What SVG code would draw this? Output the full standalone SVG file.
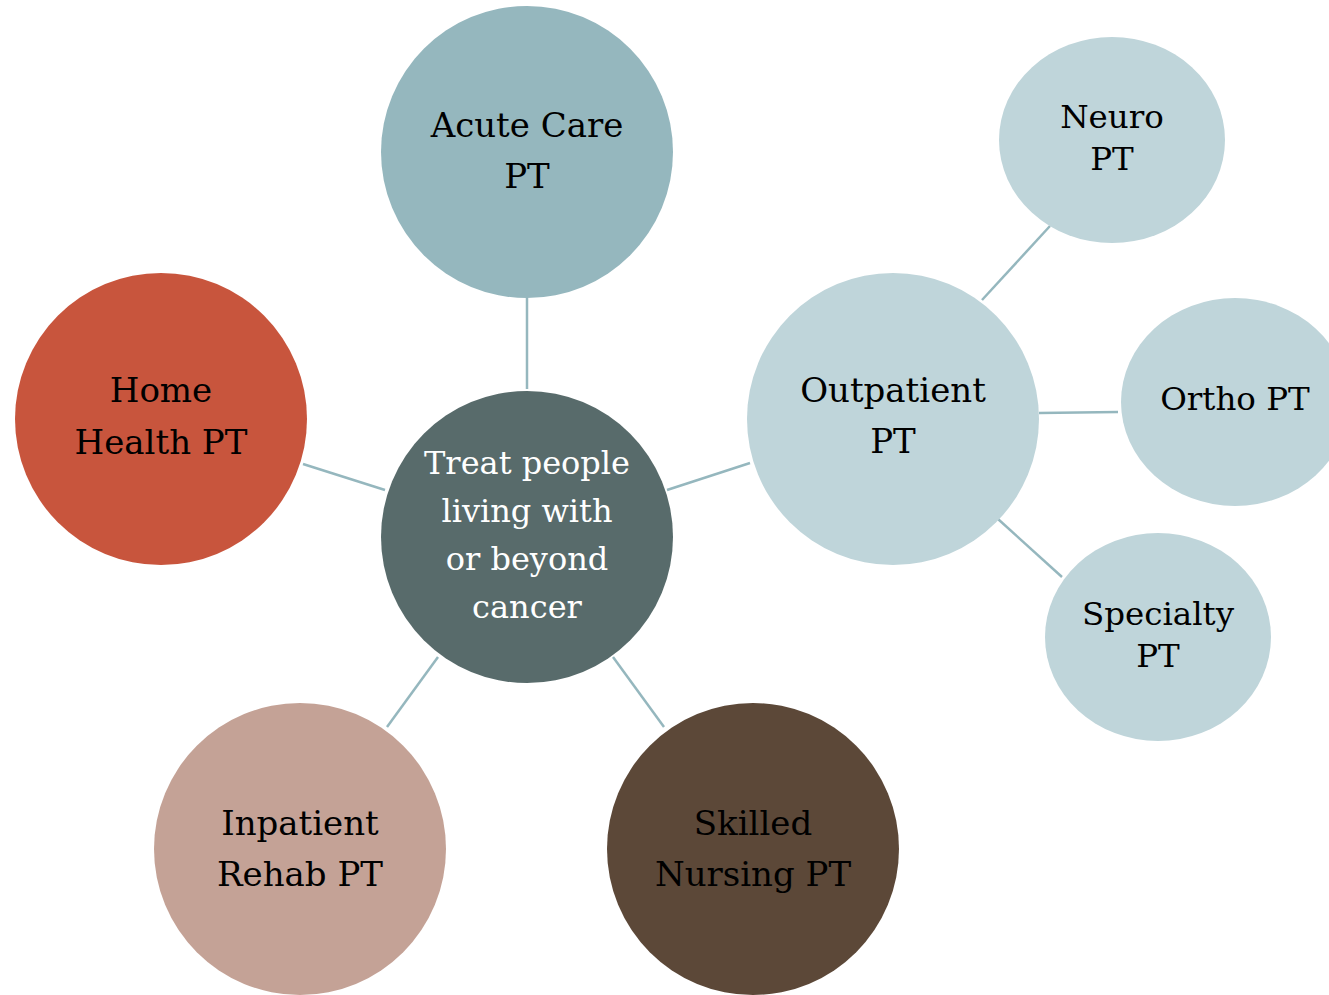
<svg xmlns="http://www.w3.org/2000/svg" width="1329" height="995" viewBox="0 0 1329 995">
<style>
text{font-family:"DejaVu Serif","Liberation Serif",serif;text-anchor:middle;fill:#000}
.big{font-size:34px}
.mid{font-size:32px}
.sm{font-size:32.5px}
.w{fill:#fff}
.c line{stroke:#95B7BE;stroke-width:2.5}
</style>
<rect width="1329" height="995" fill="#fff"/>
<g class="c" id="connectors">
<line x1="527" y1="298" x2="527" y2="389"/>
<line x1="303" y1="464" x2="385" y2="490"/>
<line x1="667" y1="490" x2="750" y2="463"/>
<line x1="438" y1="657" x2="387" y2="727"/>
<line x1="613" y1="657" x2="664" y2="727"/>
<line x1="982" y1="300" x2="1050" y2="226"/>
<line x1="1039" y1="413" x2="1118" y2="412"/>
<line x1="998" y1="519" x2="1062" y2="577"/>
</g>
<g id="acute"><circle cx="527" cy="152" r="146" fill="#95B7BE"/><text class="big" x="527" y="137">Acute Care</text><text class="big" x="527" y="188">PT</text></g>
<g id="home"><circle cx="161" cy="419" r="146" fill="#C8553D"/><text class="big" x="161" y="402">Home</text><text class="big" x="161" y="454">Health PT</text></g>
<g id="center"><circle cx="527" cy="537" r="146" fill="#586B6B"/><text class="mid w" x="527" y="474">Treat people</text><text class="mid w" x="527" y="522">living with</text><text class="mid w" x="527" y="570">or beyond</text><text class="mid w" x="527" y="618">cancer</text></g>
<g id="outpatient"><circle cx="893" cy="419" r="146" fill="#BFD5DA"/><text class="big" x="893" y="402" font-size="35">Outpatient</text><text class="big" x="893" y="453">PT</text></g>
<g id="inpatient"><circle cx="300" cy="849" r="146" fill="#C4A296"/><text class="big" x="300" y="835">Inpatient</text><text class="big" x="300" y="886">Rehab PT</text></g>
<g id="skilled"><circle cx="753" cy="849" r="146" fill="#5C4838"/><text class="big" x="753" y="835">Skilled</text><text class="big" x="753" y="886">Nursing PT</text></g>
<g id="neuro"><ellipse cx="1112" cy="140" rx="113" ry="103" fill="#BFD5DA"/><text class="sm" x="1112" y="128">Neuro</text><text class="sm" x="1112" y="170">PT</text></g>
<g id="ortho"><ellipse cx="1235" cy="402" rx="114" ry="104" fill="#BFD5DA"/><text class="sm" x="1235" y="410">Ortho PT</text></g>
<g id="specialty"><ellipse cx="1158" cy="637" rx="113" ry="104" fill="#BFD5DA"/><text class="sm" x="1158" y="625">Specialty</text><text class="sm" x="1158" y="667">PT</text></g>
</svg>
